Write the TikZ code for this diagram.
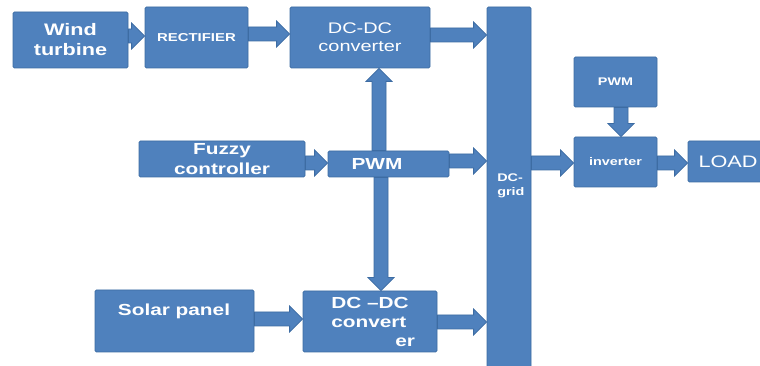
\documentclass[tikz,border=0pt]{standalone}
\usepackage{fontspec}
\setmainfont{Liberation Sans}[FakeStretch=1.3]
\usetikzlibrary{calc}
\definecolor{boxblue}{HTML}{4F81BD}
\definecolor{boxline}{HTML}{3D6CA3}
\newcommand\myharrow[2]{%
  \path[arr] let \p1=(#1), \p2=(#2), \p3=({\x2-9.75pt*sign(\x2-\x1)},\y2) in
    (\x1,\y1-5.25pt) -- (\x3,\y1-5.25pt) -- (\x3,\y1-9.75pt) -- (\x2,\y2) --
    (\x3,\y1+9.75pt) -- (\x3,\y1+5.25pt) -- (\x1,\y1+5.25pt) -- cycle;}
\newcommand\myvarrow[2]{%
  \path[arr] let \p1=(#1), \p2=(#2), \p3=(\x2,{\y2-9.75pt*sign(\y2-\y1)}) in
    (\x1-5.25pt,\y1) -- (\x1-5.25pt,\y3) -- (\x1-9.75pt,\y3) -- (\x2,\y2) --
    (\x1+9.75pt,\y3) -- (\x1+5.25pt,\y3) -- (\x1+5.25pt,\y1) -- cycle;}
\begin{document}
\begin{tikzpicture}[x=0.75pt,y=-0.75pt,
  box/.style={draw=boxline, fill=boxblue, line width=0.6pt, rounded corners=1pt,
    inner sep=0pt, text=white, align=center},
  arr/.style={draw=boxline, fill=boxblue, line width=0.6pt, line join=miter},
  txt/.style={text=white, inner sep=0pt},
  big/.style={font=\bfseries\fontsize{12}{14.5}\selectfont},
  small/.style={font=\bfseries\fontsize{8.3}{10.5}\selectfont}]
\useasboundingbox (0,0) rectangle (760,366);
\fill[white] (0,0) rectangle (760,366);
% boxes
\node[box, minimum width=86.25pt, minimum height=42pt, font=\bfseries\fontsize{12.5}{15}\selectfont] (wind) at (70.5,40) {Wind\\turbine};
\node[box, minimum width=77.25pt, minimum height=45.75pt, font=\bfseries\fontsize{8.6}{10}\selectfont] (rect) at (196.5,37.5) {RECTIFIER};
\node[box, minimum width=105pt, minimum height=45.75pt, font=\fontsize{11.5}{13.5}\selectfont] (dc1) at (360,37.5) {DC-DC\\converter};
\node[box, minimum width=33pt, minimum height=273.75pt] (grid) at (509,189.5) {};
\node[txt, small, align=left, anchor=west] (gridtxt) at (497,186) {DC-\\grid};
\node[box, small, minimum width=62.25pt, minimum height=37.5pt] (pwmr) at (615.5,82) {PWM};
\node[box, small, minimum width=62.25pt, minimum height=37.5pt] (inv) at (615.5,162) {inverter};
\node[box, minimum width=60pt, minimum height=30.75pt, font=\fontsize{12.5}{15}\selectfont] (load) at (728,161.5) {LOAD};
\node[box, big, minimum width=124.5pt, minimum height=27pt] (fuzzy) at (222,159) {Fuzzy\\controller};
\node[box, minimum width=90.75pt, minimum height=19.5pt] (pwm) at (388.5,164) {};
\node[txt, big] (pwmtxt) at (377,164) {PWM};
\node[box, minimum width=119.25pt, minimum height=46.5pt] (solar) at (174.5,321) {};
\node[txt, big] (solartxt) at (174,311) {Solar panel};
\node[box, minimum width=100.5pt, minimum height=45.75pt] (dc2) at (370,321.5) {};
\node[txt, big, align=left, anchor=west] (dc2txt) at (331,322) {DC –DC\\convert\\\hspace*{48pt}er};
% arrows
\myharrow{wind.east |- 0,36}{rect.west |- 0,36}
\myharrow{rect.east |- 0,34}{dc1.west |- 0,34}
\myharrow{dc1.east |- 0,35}{grid.west |- 0,35}
\myharrow{fuzzy.east |- 0,163}{pwm.west |- 0,163}
\myharrow{pwm.east |- 0,161}{grid.west |- 0,161}
\myvarrow{pwm.north -| 379,0}{dc1.south -| 379,0}
\myvarrow{pwm.south -| 381,0}{dc2.north -| 381,0}
\myharrow{solar.east |- 0,319}{dc2.west |- 0,319}
\myharrow{dc2.east |- 0,322}{grid.west |- 0,322}
\myharrow{grid.east |- 0,163}{inv.west |- 0,163}
\myvarrow{pwmr.south -| 621,0}{inv.north -| 621,0}
\myharrow{inv.east |- 0,163}{load.west |- 0,163}
\end{tikzpicture}
\end{document}
